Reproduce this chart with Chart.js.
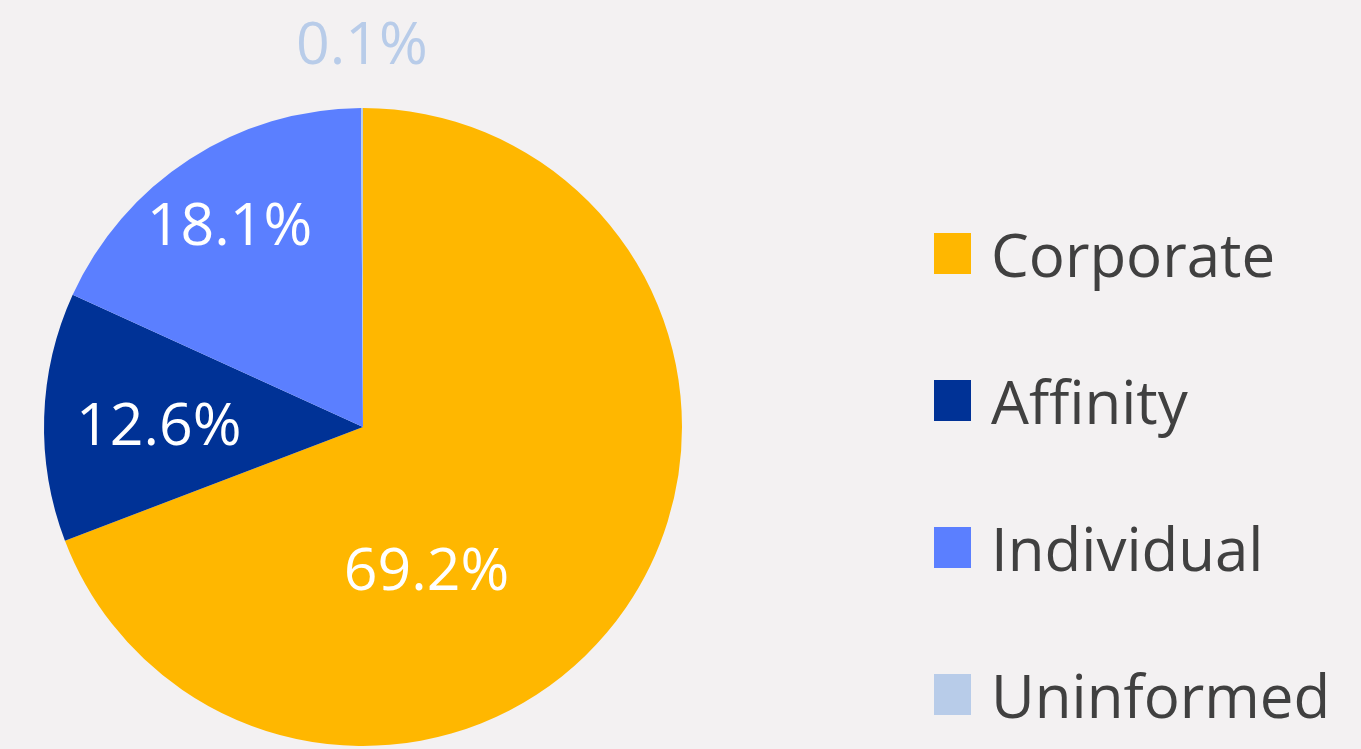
<!DOCTYPE html>
<html>
<head>
<meta charset="utf-8">
<script src="https://cdn.jsdelivr.net/npm/chart.js@4.4.1/dist/chart.umd.min.js"></script>
<style>
  body { margin: 0; background: #f3f1f2; width: 1361px; height: 749px; overflow: hidden; position: relative; }
  #pieBox { position: absolute; left: 0; top: 0; width: 726px; height: 749px; }
  #legend { position: absolute; left: 934px; top: 180px; font-family: "Open Sans", sans-serif; font-size: 60px; color: #404040; }
  .item { height: 147px; display: flex; align-items: center; }
  .swatch { width: 37px; height: 41px; margin-right: 20px; flex: none; }
</style>
</head>
<body>
<div id="pieBox"><canvas id="pie"></canvas></div>
<div id="legend"></div>
<script>
const categories = ["Corporate", "Affinity", "Individual", "Uninformed"];
const shares = [69.2, 12.6, 18.1, 0.1];
const colors = ["#ffb700", "#003296", "#5b7fff", "#b8cce9"];

// where Excel put each label: angle shift (deg) from slice middle, distance as share of radius
const labelPlace = [
  { shift: 32, dist: 0.5, color: "#ffffff" },
  { shift: -2, dist: 0.64, color: "#ffffff" },
  { shift: -1, dist: 0.75, color: "#ffffff" },
  { shift: 0, dist: 1.19, color: "#b8cce9" },
];

const sliceLabels = {
  id: "sliceLabels",
  afterDatasetsDraw(chart) {
    const ctx = chart.ctx;
    const arcs = chart.getDatasetMeta(0).data;
    ctx.save();
    ctx.font = "59px 'Open Sans', sans-serif";
    ctx.textAlign = "center";
    ctx.textBaseline = "middle";
    arcs.forEach((arc, i) => {
      const p = labelPlace[i];
      const mid = (arc.startAngle + arc.endAngle) / 2 + (p.shift * Math.PI) / 180;
      const r = arc.outerRadius * p.dist;
      ctx.fillStyle = p.color;
      ctx.fillText(shares[i].toFixed(1) + "%", arc.x + Math.cos(mid) * r, arc.y + Math.sin(mid) * r);
    });
    ctx.restore();
  },
};

new Chart("pie", {
  type: "pie",
  data: {
    labels: categories,
    datasets: [{
      data: shares,
      backgroundColor: colors,
      borderWidth: 0,
    }],
  },
  options: {
    responsive: true,
    maintainAspectRatio: false,
    animation: false,
    layout: { padding: { left: 44, right: 44, top: 108, bottom: 3 } },
    plugins: { legend: { display: false }, tooltip: { enabled: false } },
  },
  plugins: [sliceLabels],
});

const legend = document.getElementById("legend");
categories.forEach((name, i) => {
  const row = document.createElement("div");
  row.className = "item";
  row.innerHTML = `<span class="swatch" style="background:${colors[i]}"></span><span>${name}</span>`;
  legend.appendChild(row);
});
</script>
</body>
</html>
